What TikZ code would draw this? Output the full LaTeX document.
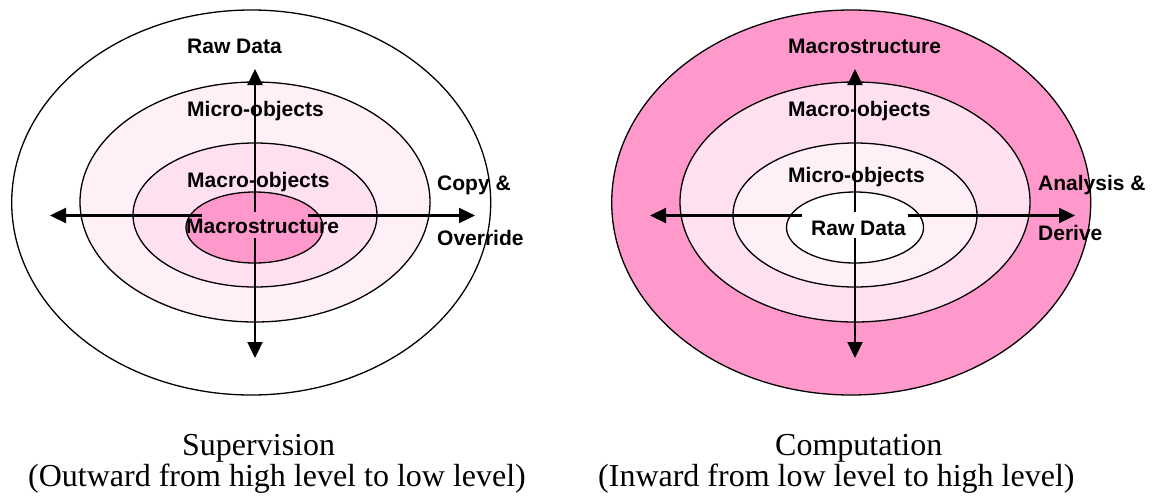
\documentclass[tikz,border=0pt]{standalone}
\usepackage{fontspec}
\setmainfont{Liberation Serif}
\newfontfamily\labelfont{Liberation Sans}
\usetikzlibrary{arrows.meta}
\definecolor{pinkdeep}{HTML}{FF99CC}
\definecolor{pinkmid}{HTML}{FFE0F0}
\definecolor{pinklight}{HTML}{FFF0F8}

\begin{document}
\begin{tikzpicture}[x=1pt,y=-1pt,
  ring/.style={draw=black,line width=1.3pt},
  flow/.style={line width=2.2pt,-{Triangle[length=16pt,width=15pt]}},
  lbl/.style={anchor=base west,inner sep=0pt,font=\labelfont\bfseries\fontsize{21}{25}\selectfont},
  captiontext/.style={anchor=base west,inner sep=0pt,font=\fontsize{32}{31}\selectfont}]
\useasboundingbox (0,0) rectangle (1155,501);

% ---------- Supervision: levels grow outward ----------
\filldraw[ring,fill=white]     (251.2,202.5) ellipse [x radius=239.5pt,y radius=192.5pt];
\filldraw[ring,fill=pinklight] (255,202)     ellipse [x radius=175pt,y radius=120pt];
\filldraw[ring,fill=pinkmid]   (255,215)     ellipse [x radius=122pt,y radius=72pt];
\filldraw[ring,fill=pinkdeep]  (254.5,227.5) ellipse [x radius=68.5pt,y radius=35.5pt];

\coordinate (sU0) at (255,212);   \coordinate (sU1) at (255,69);
\coordinate (sD0) at (255,238);   \coordinate (sD1) at (255,358);
\coordinate (sL0) at (202,215.5); \coordinate (sL1) at (50,215.5);
\coordinate (sR0) at (308,215.5); \coordinate (sR1) at (475,215.5);
\draw[flow] (sU0) -- (sU1);
\draw[flow] (sD0) -- (sD1);
\draw[flow] (sL0) -- (sL1);
\draw[flow] (sR0) -- (sR1);

\node[lbl] (sRaw)   at (187,53)  {Raw Data};
\node[lbl] (sMicro) at (187,116) {Micro-objects};
\node[lbl] (sMacro) at (187,187) {Macro-objects};
\node[lbl] (sStruc) at (186,233) {Macrostructure};
\node[lbl] (sCopy)  at (437,190) {Copy \&};
\node[lbl] (sOver)  at (437,245) {Override};

\node[captiontext] (sCap1) at (182,455) {Supervision};
\node[captiontext] (sCap2) at (28,486)  {(Outward from high level to low level)};

% ---------- Computation: levels grow inward ----------
\filldraw[ring,fill=pinkdeep]  (851.2,202.5) ellipse [x radius=239.5pt,y radius=192.5pt];
\filldraw[ring,fill=pinkmid]   (855,202)     ellipse [x radius=175pt,y radius=120pt];
\filldraw[ring,fill=pinklight] (855,215)     ellipse [x radius=122pt,y radius=72pt];
\filldraw[ring,fill=white]     (855,227.5)   ellipse [x radius=68.5pt,y radius=35.5pt];

\coordinate (cU0) at (855,212);   \coordinate (cU1) at (855,69);
\coordinate (cD0) at (855,238);   \coordinate (cD1) at (855,358);
\coordinate (cL0) at (802,215.5); \coordinate (cL1) at (650,215.5);
\coordinate (cR0) at (908,215.5); \coordinate (cR1) at (1075,215.5);
\draw[flow] (cU0) -- (cU1);
\draw[flow] (cD0) -- (cD1);
\draw[flow] (cL0) -- (cL1);
\draw[flow] (cR0) -- (cR1);

\node[lbl] (cStruc) at (788,53)  {Macrostructure};
\node[lbl] (cMacro) at (788,116) {Macro-objects};
\node[lbl] (cMicro) at (788,182) {Micro-objects};
\node[lbl] (cRaw)   at (811,235) {Raw Data};
\node[lbl] (cAna)   at (1038,190) {Analysis \&};
\node[lbl] (cDer)   at (1038,240) {Derive};

\node[captiontext] (cCap1) at (775,455) {Computation};
\node[captiontext] (cCap2) at (598,486) {(Inward from low level to high level)};
\end{tikzpicture}
\end{document}
